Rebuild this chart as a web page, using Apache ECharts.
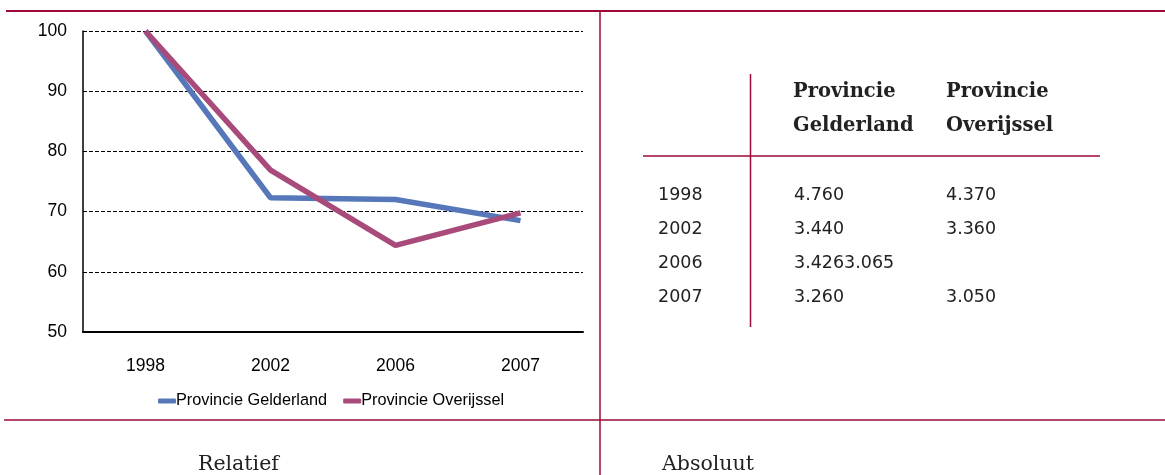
<!DOCTYPE html>
<html>
<head>
<meta charset="utf-8">
<script src="https://cdn.jsdelivr.net/npm/echarts@6/dist/echarts.min.js"></script>
<style>
  html, body { margin: 0; padding: 0; background: #fff; }
  #box { width: 1165px; height: 475px; }
</style>
</head>
<body>
<div id="box"></div>
<script>
// data
var years = ['1998', '2002', '2006', '2007'];
var gelderlandRel = [100, 72.3, 72.0, 68.5];
var overijsselRel = [100, 76.9, 64.4, 69.8];
var seriesNames = ['Provincie Gelderland', 'Provincie Overijssel'];
var yTicks = { min: 50, max: 100, step: 10 };

var tableHeadG = ['Provincie', 'Gelderland'];
var tableHeadO = ['Provincie', 'Overijssel'];
var gelderlandAbs = ['4.760', '3.440', '3.4263.065', '3.260'];
var overijsselAbs = ['4.370', '3.360', '', '3.050'];
var panelLabels = ['Relatief', 'Absoluut'];

var frameColor = '#9c0a36';
var blue = '#5677b9';
var plum = '#a84a7a';

var chart = echarts.init(document.getElementById('box'));

function line(x1, y1, x2, y2, w) {
  return { type: 'line', silent: true, shape: { x1: x1, y1: y1, x2: x2, y2: y2 },
           style: { stroke: frameColor, lineWidth: w } };
}
function txt(x, y, s, font, weight, color) {
  return { type: 'text', silent: true, x: x, y: y,
           style: { text: s, fill: color || '#222', font: (weight || 'normal') + ' ' + font,
                    textAlign: 'left', textVerticalAlign: 'middle' } };
}

var graphics = [
  line(6, 11, 1165, 11, 2),
  line(600, 11, 600, 475, 1.5),
  line(4, 420, 1165, 420, 1.5),
  line(750.5, 74, 750.5, 327, 1.5),
  line(643, 156, 1100, 156, 1.5)
];
var headFont = '19.5px "DejaVu Serif"';
graphics.push(txt(793, 92, tableHeadG[0], headFont, 'bold'));
graphics.push(txt(793, 126, tableHeadG[1], headFont, 'bold'));
graphics.push(txt(946, 92, tableHeadO[0], headFont, 'bold'));
graphics.push(txt(946, 126, tableHeadO[1], headFont, 'bold'));
var cellFont = '17.5px "DejaVu Sans"';
years.forEach(function (y, i) {
  var cy = 195 + i * 34;
  graphics.push(txt(658, cy, y, cellFont));
  graphics.push(txt(794, cy, gelderlandAbs[i], cellFont));
  graphics.push(txt(946, cy, overijsselAbs[i], cellFont));
});
var labelFont = '20.5px "DejaVu Serif"';
graphics.push(txt(198, 465, panelLabels[0], labelFont));
graphics.push(txt(662, 465, panelLabels[1], labelFont));

var option = {
  animation: false,
  grid: { left: 83, top: 31, width: 500, height: 301, containLabel: false },
  legend: {
    data: seriesNames,
    left: 153, top: 388,
    itemWidth: 18, itemHeight: 5, itemGap: 16,
    icon: 'roundRect',
    textStyle: { fontFamily: 'Liberation Sans', fontSize: 16.3, color: '#000', padding: [0, 0, 0, -5] }
  },
  xAxis: {
    type: 'category', data: years, boundaryGap: true,
    axisLine: { lineStyle: { color: '#000', width: 2 } },
    axisTick: { show: false },
    axisLabel: { fontFamily: 'Liberation Sans', fontSize: 17.5, color: '#000', margin: 25 }
  },
  yAxis: {
    type: 'value', min: yTicks.min, max: yTicks.max, interval: yTicks.step,
    axisLine: { show: true, lineStyle: { color: '#000', width: 1.5 } },
    axisTick: { show: false },
    axisLabel: { fontFamily: 'Liberation Sans', fontSize: 17.5, color: '#000', margin: 16 },
    splitLine: { lineStyle: { color: '#000', type: [4, 2], width: 1.2 } }
  },
  series: [
    { name: seriesNames[0], type: 'line', data: gelderlandRel, symbol: 'none',
      lineStyle: { color: blue, width: 5.5 }, itemStyle: { color: blue } },
    { name: seriesNames[1], type: 'line', data: overijsselRel, symbol: 'none',
      lineStyle: { color: plum, width: 5.5 }, itemStyle: { color: plum } }
  ],
  graphic: graphics
};
chart.setOption(option);
</script>
</body>
</html>
